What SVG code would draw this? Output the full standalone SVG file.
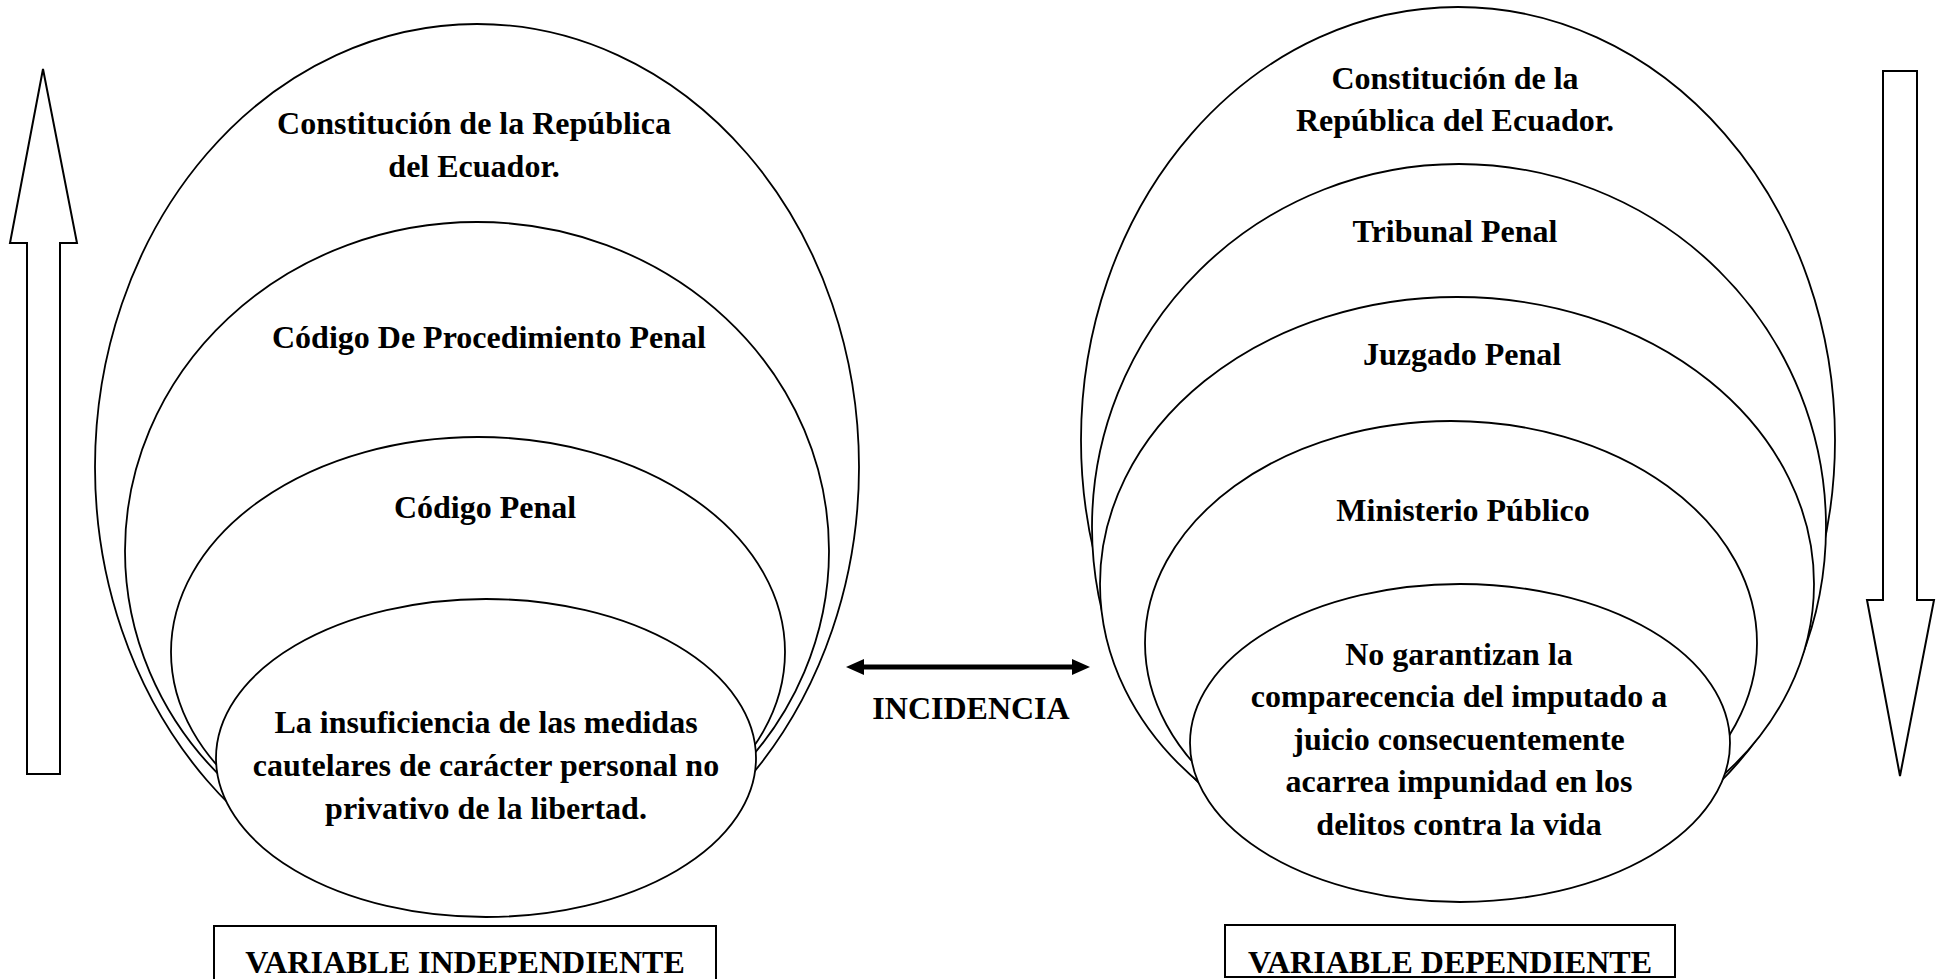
<svg xmlns="http://www.w3.org/2000/svg" width="1943" height="979" viewBox="0 0 1943 979">
  <style>
    .ring { fill: #ffffff; stroke: #000000; stroke-width: 1.8; }
    .shape { fill: #ffffff; stroke: #000000; stroke-width: 2; }
    .lbl { font-family: "Liberation Serif", "Times New Roman", serif; font-weight: bold; font-size: 32px; fill: #000000; text-anchor: middle; }
    .link { stroke: #000000; stroke-width: 5; fill: none; }
  </style>
  <defs>
    <marker id="head" viewBox="0 0 18 16" refX="2" refY="8" markerWidth="18" markerHeight="16" markerUnits="userSpaceOnUse" orient="auto-start-reverse">
      <path d="M0,0 L18,8 L0,16 Z" fill="#000000"/>
    </marker>
  </defs>
  <rect width="1943" height="979" fill="#ffffff"/>

  <!-- vertical direction arrows -->
  <g id="arrow-up">
    <polygon class="shape" points="43,69 77,243 60,243 60,774 27,774 27,243 10,243"/>
  </g>
  <g id="arrow-down">
    <polygon class="shape" points="1883,71 1917,71 1917,600 1934,600 1900,776 1867,600 1883,600"/>
  </g>

  <!-- independent variable: nested ellipses -->
  <g id="ind-constitucion">
    <ellipse class="ring" cx="477" cy="467" rx="382" ry="443"/>
    <text class="lbl" x="474" y="134">Constitución de la República</text>
    <text class="lbl" x="474" y="177">del Ecuador.</text>
  </g>
  <g id="ind-procedimiento">
    <ellipse class="ring" cx="477" cy="551" rx="352" ry="329"/>
    <text class="lbl" x="489" y="348">Código De Procedimiento Penal</text>
  </g>
  <g id="ind-codigo-penal">
    <ellipse class="ring" cx="478" cy="652" rx="307" ry="215"/>
    <text class="lbl" x="485" y="518">Código Penal</text>
  </g>
  <g id="ind-medidas">
    <ellipse class="ring" cx="486" cy="758" rx="270" ry="159"/>
    <text class="lbl" x="486" y="733">La insuficiencia de las medidas</text>
    <text class="lbl" x="486" y="776">cautelares de carácter personal no</text>
    <text class="lbl" x="486" y="819">privativo de la libertad.</text>
  </g>

  <!-- dependent variable: nested ellipses -->
  <g id="dep-constitucion">
    <ellipse class="ring" cx="1458" cy="440" rx="377" ry="433"/>
    <text class="lbl" x="1455" y="89">Constitución de la</text>
    <text class="lbl" x="1455" y="131">República del Ecuador.</text>
  </g>
  <g id="dep-tribunal">
    <ellipse class="ring" cx="1459" cy="527" rx="367" ry="363"/>
    <text class="lbl" x="1455" y="242">Tribunal Penal</text>
  </g>
  <g id="dep-juzgado">
    <ellipse class="ring" cx="1457" cy="584" rx="357" ry="287"/>
    <text class="lbl" x="1462" y="365">Juzgado Penal</text>
  </g>
  <g id="dep-ministerio">
    <ellipse class="ring" cx="1451" cy="643" rx="306" ry="222"/>
    <text class="lbl" x="1463" y="521">Ministerio Público</text>
  </g>
  <g id="dep-impunidad">
    <ellipse class="ring" cx="1460" cy="743" rx="270" ry="159"/>
    <text class="lbl" x="1459" y="665">No garantizan la</text>
    <text class="lbl" x="1459" y="707">comparecencia del imputado a</text>
    <text class="lbl" x="1459" y="750">juicio consecuentemente</text>
    <text class="lbl" x="1459" y="792">acarrea impunidad en los</text>
    <text class="lbl" x="1459" y="835">delitos contra la vida</text>
  </g>

  <!-- relation between both variables -->
  <g id="connectors">
    <line class="link" x1="862" y1="667" x2="1074" y2="667" marker-start="url(#head)" marker-end="url(#head)"/>
  </g>
  <g id="incidencia">
    <text class="lbl" x="971" y="719">INCIDENCIA</text>
  </g>

  <!-- captions -->
  <g id="caption-independiente">
    <rect class="shape" x="214" y="926" width="502" height="70"/>
    <text class="lbl" x="465" y="973">VARIABLE INDEPENDIENTE</text>
  </g>
  <g id="caption-dependiente">
    <rect class="shape" x="1225" y="925" width="450" height="52"/>
    <text class="lbl" x="1450" y="973">VARIABLE DEPENDIENTE</text>
  </g>
</svg>
